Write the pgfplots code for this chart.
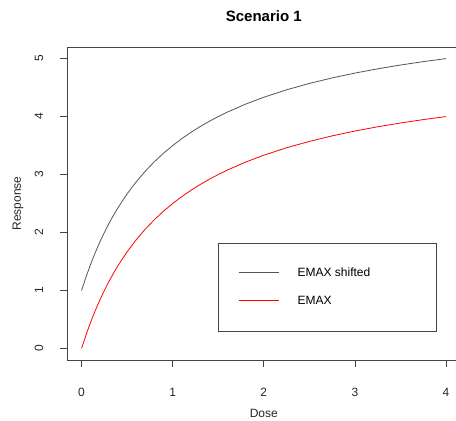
\documentclass[border=0pt]{standalone}
\usepackage{pgfplots}
\pgfplotsset{compat=1.18}
\usepackage{fontspec}
\setmainfont{Liberation Sans}
\definecolor{boxgray}{HTML}{444444}
\definecolor{curvegray}{HTML}{555555}
\begin{document}
\begin{tikzpicture}
\useasboundingbox (0,0) rectangle (456pt,421pt);
\clip (0,0) rectangle (456pt,421pt);
\begin{axis}[
  at={(67pt,61pt)}, anchor=south west,
  scale only axis, width=393.6pt, height=313pt,
  xmin=-0.16, xmax=4.16, ymin=-0.2, ymax=5.2,
  xtick={0,1,2,3,4}, ytick={0,1,2,3,4,5},
  xtick pos=bottom, ytick pos=left,
  tick align=outside, major tick length=7pt,
  axis line style={boxgray, line width=0.8pt},
  every tick/.style={boxgray, line width=0.8pt},
  /pgf/number format/assume math mode=true,
  tick label style={font=\fontsize{12}{14}\selectfont, text=black!85},
  xticklabel style={anchor=base, yshift=-29pt},
  yticklabel style={rotate=90, anchor=base, yshift=17pt},
  title={Scenario 1},
  title style={font=\fontsize{15}{18}\selectfont\bfseries, at={(axis description cs:0.5,1)}, anchor=base, yshift=20pt},
  xlabel={Dose}, ylabel={Response},
  label style={font=\fontsize{12}{14}\selectfont, text=black!85},
  xlabel style={at={(axis description cs:0.5,0)}, anchor=base, yshift=-57pt},
  ylabel style={at={(axis description cs:0,0.5)}, anchor=base, yshift=46pt},
  legend cell align=left,
  legend style={at={(axis cs:1.5,1.82)}, anchor=north west, draw=boxgray, fill=white, line width=0.8pt,
    inner xsep=20pt, inner ysep=25pt, row sep=18pt, column sep=0pt,
    font=\fontsize{12}{14}\selectfont,
    nodes={inner sep=0pt, text height=8pt, text depth=2pt}},
  legend image code/.code={},
]
\addplot[draw=curvegray, line width=0.8pt] coordinates {
(0,1) (0.05,1.2381) (0.1,1.4545) (0.15,1.6522) (0.2,1.8333) (0.25,2) (0.3,2.1538) (0.35,2.2963)
(0.4,2.4286) (0.5,2.6667) (0.6,2.875) (0.7,3.0588) (0.8,3.2222) (0.9,3.3684) (1.0,3.5)
(1.1,3.619) (1.2,3.7273) (1.3,3.8261) (1.4,3.9167) (1.5,4.0) (1.6,4.0769) (1.8,4.2143)
(2.0,4.3333) (2.25,4.4615) (2.5,4.5714) (2.75,4.6667) (3.0,4.75) (3.25,4.8235) (3.5,4.8889)
(3.75,4.9474) (4.0,5)};
\addlegendentry{\makebox[178pt][l]{\textcolor{curvegray}{\rule[4pt]{40pt}{0.8pt}}\hspace{19pt}EMAX shifted}}
\addplot[draw=red, line width=0.8pt] coordinates {
(0,0) (0.05,0.2381) (0.1,0.4545) (0.15,0.6522) (0.2,0.8333) (0.25,1) (0.3,1.1538) (0.35,1.2963)
(0.4,1.4286) (0.5,1.6667) (0.6,1.875) (0.7,2.0588) (0.8,2.2222) (0.9,2.3684) (1.0,2.5)
(1.1,2.619) (1.2,2.7273) (1.3,2.8261) (1.4,2.9167) (1.5,3.0) (1.6,3.0769) (1.8,3.2143)
(2.0,3.3333) (2.25,3.4615) (2.5,3.5714) (2.75,3.6667) (3.0,3.75) (3.25,3.8235) (3.5,3.8889)
(3.75,3.9474) (4.0,4)};
\addlegendentry{\makebox[178pt][l]{\textcolor{red}{\rule[4pt]{40pt}{0.8pt}}\hspace{19pt}EMAX}}
\end{axis}
\end{tikzpicture}
\end{document}
